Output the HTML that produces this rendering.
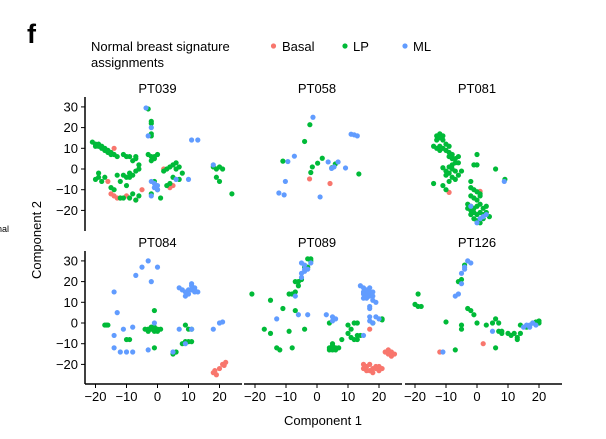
<!DOCTYPE html>
<html><head><meta charset="utf-8"><style>
body{margin:0;background:#fff;}
svg{display:block;font-family:"Liberation Sans",Arial,sans-serif;}
</style></head><body>
<svg id="chart" width="606" height="439" viewBox="0 0 606 439" xmlns="http://www.w3.org/2000/svg">
<text x="27" y="43" font-size="27" font-weight="bold">f</text>
<text x="91" y="51" font-size="13">Normal breast signature</text>
<text x="91" y="67" font-size="13">assignments</text>
<g><circle cx="273.5" cy="46" r="2.6" fill="#F8766D"/><text x="282" y="51" font-size="13">Basal</text></g>
<g><circle cx="345" cy="46" r="2.6" fill="#00BA38"/><text x="353" y="51" font-size="13">LP</text></g>
<g><circle cx="405" cy="46" r="2.6" fill="#619CFF"/><text x="413" y="51" font-size="13">ML</text></g>
<text x="-3" y="232" font-size="9">nal</text>
<text transform="translate(41,240) rotate(-90)" text-anchor="middle" font-size="13">Component 2</text>
<text x="323" y="425" text-anchor="middle" font-size="13">Component 1</text>
<g id="plots"></g>
</svg>
<script>
const panelNames = ["PT039","PT058","PT081","PT084","PT089","PT126"];
const xTicks = [-20,-10,0,10,20];
const yTicks = [-20,-10,0,10,20,30];
const basal = [
 [[-14,10],[-16,-6],[-15,-12],[-14,-13],[-13,-14],[-12,-14],[-10,-13],[-7,-15],[-5,-10],[2,0],[4,-9],[5,-8]],
 [[-2.4,-4.8],[4.2,-7]],
 [[-9,-11.3],[1,-10.8]],
 [[18,-24],[18.5,-23],[19,-25],[20,-22],[21,-20],[22,-19],[21.5,-20.5]],
 [[17,-3],[15,-22],[16,-21],[17,-23],[18,-22],[19,-21],[16,-23],[18,-24],[19,-22],[20,-21],[21,-22],[17,-20],[22,-14],[23,-15],[24,-14],[25,-15],[24,-16],[23,-13],[15,-20],[20,-23]],
 [[2,-10],[-12,-14]]
];
const lp = [
 [[-21,13],[-20,12],[-19,11],[-19,12],[-18,10],[-17,10],[-17,9],[-16,8],[-16,9],[-15,8],[-14,7],[-13,6],[-11,7],[-9,6],[-10,6],[-20,11],[-18,11],[-15,7],[-3,29],[-2,23],[-2,22],[-2,16],[-2,17],[-7,5],[-7,6],[-8,4],[-3,7],[-2,6],[-1,6],[0,7],[-1,5],[-2,4],[-6,2],[-6,0],[-7,-1],[-8,-3],[-9,-4],[-10,-4],[-11,-3],[-9,-2],[-19,-2],[-19,-4],[-20,-5],[-18,-6],[-17,-4],[-15,-9],[-14,-10],[-12,-14],[-11,-14],[-9,-14],[-8,-12],[-7,-15],[-6,-13],[-10,-8],[2,-1],[3,0],[4,1],[5,2],[6,3],[7,1],[6,0],[8,-2],[5,-4],[7,-5],[4,-7],[3,-8],[1,-14],[0,-10],[-1,-6],[-2,-12],[18,1],[19,0],[20,1],[21,0],[19,-4],[20,-6],[24,-12],[-13,-3],[-12,-6]],
 [[-2.3,21.4],[-4,13.3],[-11,3.8],[1.7,5.2],[0.2,2.8],[5.9,2.4],[4.8,0.6],[-1.5,1],[-2,-1.7],[13.5,-2.4]],
 [[-13,16],[-12,17],[-12,15],[-13,14],[-11,14],[-11,16],[-14,11],[-13,10],[-12,11],[-12,9],[-11,10],[-10,12],[-10,9],[-9,11],[-9,8],[-8,7],[-9,6],[-8,5],[-7,5],[-6,6],[-7,3],[-6,3],[-8,2],[-9,1],[-10,-1],[-9,-2],[-10,-3],[-8,-4],[-9,-6],[-7,-5],[-6,-3],[-5,-1],[-7,-1],[-8,0],[-11,-8],[-11,0.6],[-14,-7],[-10,-10],[-2,-6],[0,7],[-1,2],[0,2],[6,0],[9,-5],[-2,-9],[-1,-10],[0,-11],[1,-12],[-2,-13],[-1,-14],[0,-15],[1,-13],[-3,-17],[-2,-18],[-1,-19],[0,-18],[1,-17],[2,-19],[3,-18],[-2,-20],[-1,-21],[0,-22],[1,-21],[2,-22],[3,-21],[4,-23],[-1,-24],[0,-25],[1,-26],[2,-24],[-2,-22],[-3,-19]],
 [[-16.5,-1],[-17,-1],[-16,-1],[-10,-8],[-9,-8],[-1,6],[-1,-12],[-4,-3],[-3,-4],[-2,-3],[-1,-2],[-1,-4],[0,-3],[1,-3],[-2,-2],[0,-4],[-3,-3],[9,-1],[10,-3],[11,-3],[8,-10],[10,-9],[11,-9],[9,-9],[5,-15],[6,-14]],
 [[-21,14],[-15,11],[-11,7],[-9,14],[-8,14],[-7,15],[-6,20],[-7,20],[-5,21],[-3,27],[-2,30],[-2,31],[-3,31],[-4,27],[-6,18],[-7,6],[-17,-3],[-15,-5],[-13,-12],[-12,-13],[-9,-4],[-8,-12],[-4,-3],[4,0],[4,-12],[5,-11],[5,-13],[6,-12],[6,-13],[4,-13],[5,-10],[7,-12],[8,-8],[10,-5],[11,-7],[12,-8],[13,-8],[13,-6],[10,-1],[11,-3],[12,0],[13,0],[14,-6],[18,0],[21,2],[21,1.5]],
 [[-19,14],[-20,9],[-19,8],[-18,8],[-10,0.5],[-5,21],[-6,20],[-4,28],[-3,7],[-2,6],[-1,4],[-5,-1],[-5,-3],[0,0],[3,-1],[5,0],[6,2],[7,0],[7,-4],[8,-5],[8,-4],[6,-12],[-7,-13],[10,-5],[11,-6],[12,-5],[13,-7],[13,-8],[14,-5],[14,-1],[16,-2],[18,0],[19,0.5],[20,0],[20,1]]
];
const ml = [
 [[-3.7,29.5],[-2,20],[-3,16],[-2,-6],[-1,-7],[0,-8],[-1,-9],[0,-10],[-2,-13],[6,-5],[10,-5],[11,14],[13,14],[18,2]],
 [[-1.3,25],[11,16.8],[12,16.5],[13,16],[-9.4,3.6],[-7.3,6.2],[3.6,3.4],[6.8,3.4],[4.7,0.3],[5.5,1],[9.2,0.5],[-10.2,-6],[-12.3,-11.6],[-10.6,-12.5],[1,-13.5]],
 [[-2,-18],[1,-24],[2,-23],[3,-22],[0,-26],[8.8,-6]],
 [[-3,30],[-5,27],[0,27],[-7,23],[-2,20],[-14,15],[-13,5],[-11,-3],[-8,-2],[-14,-6],[-14,-12],[-12,-14],[-10,-14],[-8,-14],[-3,-13],[-1,0],[7,17],[8,16],[9,15],[10,16],[10,14],[11,18],[11,19],[12,17],[12,15],[13,15],[9,13],[11,16],[12,16],[7,-3],[9,-10],[11,-3],[5,-14],[18,-3],[20,0],[21,0.5]],
 [[-5,29],[-4,28],[-2,29],[-4,26],[-5,24],[-4,25],[-3,26],[-5,22],[-7,13],[-13,2],[-6,4],[-3,4],[3,4],[5,3],[6,2],[5,1],[14,18],[15,17],[15,15],[16,16],[16,14],[17,15],[17,13],[16,12],[15,12],[18,13],[18,11],[19,10],[17,8],[17,7],[16,13],[15,14],[17,17],[18,15],[17,3],[17,1],[19,3],[20,2],[18,0],[15,-6]],
 [[-3,30],[-2,29],[-4,27],[-4,26],[-5,24],[-5,19],[-6,14],[-7,13],[5,-4],[-11,-14],[15,-2],[16,-1],[17,-1],[18,0],[19,-1],[17,-2]]
];
const colX0 = [157.5,317,477], kx = 3.1;
const rowY0 = [169,323], ky = 2.07;
const axisLeft = [85,244,405], axisRight = [242,402,562];
function sx(c,v){return colX0[c]+v*kx;}
function sy(r,v){return rowY0[r]-v*ky;}
const NS="http://www.w3.org/2000/svg";
const root=document.getElementById('plots');
function mk(tag,attrs,parent){const e=document.createElementNS(NS,tag);for(const k in attrs)e.setAttribute(k,attrs[k]);parent.appendChild(e);return e;}
panelNames.forEach((name,i)=>{
  const c=i%3,r=Math.floor(i/3);
  const g=mk('g',{},root);
  
  
  const t=mk('text',{x:colX0[c],y:r?247:93,'text-anchor':'middle','font-size':13},g);
  t.textContent=name;
  
  
  const series=[[basal[i],'#F8766D','basal'],[lp[i],'#00BA38','lp'],[ml[i],'#619CFF','ml']];
  series.forEach(([pts,col,nm])=>{
    pts.forEach(p=>{
      const d=mk('circle',{cx:sx(c,p[0]),cy:sy(r,p[1]),r:2.6,fill:col},g);
      
      
    });
  });
  if(c===0){
    const ya=mk('g',{},g);
    
    
    mk('line',{x1:axisLeft[0],x2:axisLeft[0],y1:r?251:97,y2:r?384:231,stroke:'#000','stroke-width':1.5},ya);
    yTicks.forEach(v=>{
      mk('line',{x1:axisLeft[0]-4,x2:axisLeft[0],y1:sy(r,v),y2:sy(r,v),stroke:'#000'},ya);
      const tl=mk('text',{x:axisLeft[0]-7,y:sy(r,v)+4.5,'text-anchor':'end','font-size':13},ya);
      tl.textContent=v<0?'\u2212'+(-v):String(v);
    });
  }
  if(r===1){
    const xa=mk('g',{},g);
    
    
    mk('line',{x1:axisLeft[c],x2:axisRight[c],y1:384,y2:384,stroke:'#000','stroke-width':1.5},xa);
    xTicks.forEach(v=>{
      mk('line',{x1:sx(c,v),x2:sx(c,v),y1:384,y2:388,stroke:'#000'},xa);
      const tl=mk('text',{x:sx(c,v),y:401,'text-anchor':'middle','font-size':13},xa);
      tl.textContent=v<0?'\u2212'+(-v):String(v);
    });
  }
});
</script>
</body></html>
